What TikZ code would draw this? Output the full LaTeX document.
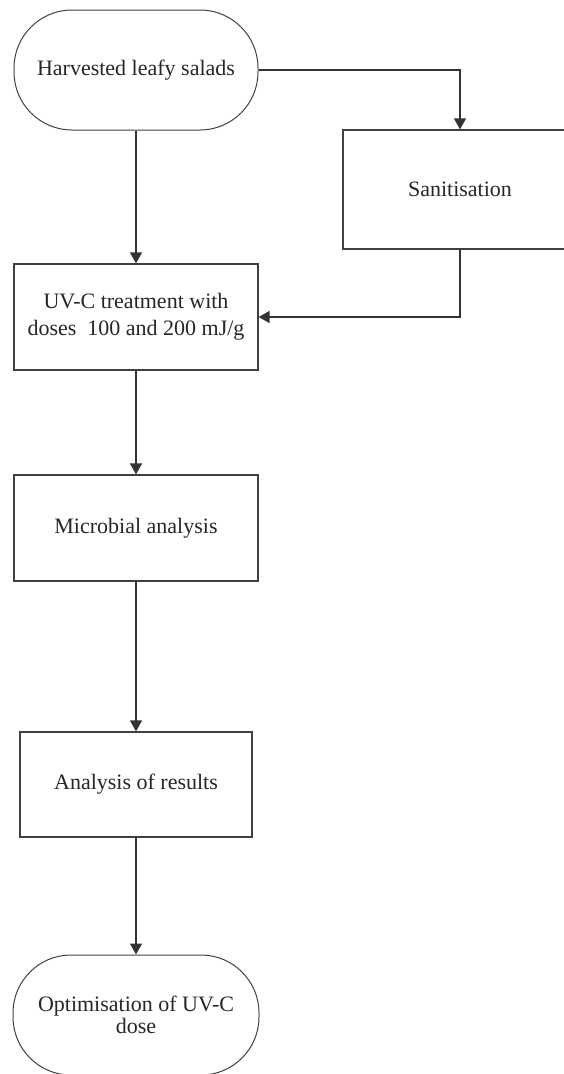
\documentclass[tikz,border=0pt]{standalone}
\usepackage{fontspec}
\setmainfont{Liberation Serif}
\usetikzlibrary{arrows.meta}
\begin{document}
\begin{tikzpicture}[x=1pt,y=-1pt,
  every node/.style={font=\fontsize{22}{27}\selectfont, text=black!85, inner sep=0pt},
  box/.style={draw=black!75, line width=1.2pt, rectangle, align=center},
  term/.style={draw=black!75, line width=1pt, rectangle, rounded corners=58pt, align=center},
  link/.style={draw=black!80, line width=1.4pt, -{Triangle[length=11pt,width=12pt]}}]
\clip (0,0) rectangle (564,1074);
\path[use as bounding box] (0,0) rectangle (564,1074);

% process steps
\node[term, minimum width=244pt, minimum height=120pt] (harvest) at (136,70) {Harvested leafy salads};
\node[box, minimum width=234pt, minimum height=119pt] (sanit) at (460,189.5) {Sanitisation};
\node[box, minimum width=244pt, minimum height=106pt] (uvc) at (136,317) {UV-C treatment with\\doses\ \ 100 and 200 mJ/g};
\node[box, minimum width=244pt, minimum height=106pt] (micro) at (136,528) {Microbial analysis};
\node[box, minimum width=232pt, minimum height=105pt] (results) at (136,784.5) {Analysis of results};
\node[term, minimum width=246pt, minimum height=120pt, font=\fontsize{22}{22}\selectfont] (optim) at (136,1015) {Optimisation of UV-C\\dose};

% flow
\draw[link] (harvest.east) -| (sanit.north);
\draw[link] (harvest.south) -- (uvc.north);
\draw[link] (sanit.south) |- (uvc.east);
\draw[link] (uvc.south) -- (micro.north);
\draw[link] (micro.south) -- (results.north);
\draw[link] (results.south) -- (optim.north);
\end{tikzpicture}
\end{document}
